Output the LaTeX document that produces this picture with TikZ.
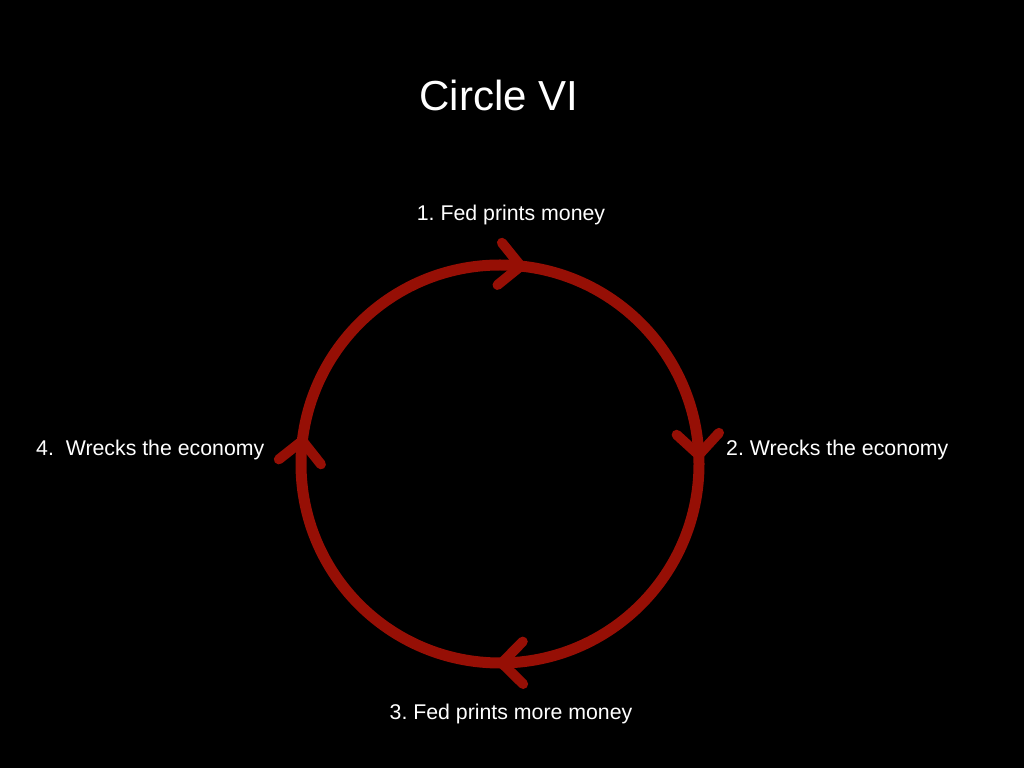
\documentclass[tikz,border=0pt]{standalone}
\usepackage{fontspec}
\setmainfont{Liberation Sans}
\usetikzlibrary{calc}
\definecolor{loopred}{RGB}{150,15,5}
\frenchspacing
\begin{document}
\begin{tikzpicture}[x=1pt,y=1pt,
  ring/.style={draw=loopred,line width=11pt},
  chevron/.style={draw=loopred,line width=10pt,line cap=round,line join=round},
  lbl/.style={text=white,font=\fontsize{21.3}{25}\selectfont,inner sep=0pt},
  ttl/.style={text=white,font=\fontsize{42}{50}\selectfont,inner sep=0pt}]
\fill[black] (0,0) rectangle (1024,768);
\useasboundingbox (0,0) rectangle (1024,768);
\coordinate (c) at (500,304);
\draw[ring] (c) circle[radius=199];
\foreach \n/\a in {t/84, r/2.6, b/-89.5, l/173.3}{
  \coordinate (tip\n) at ($(c)+(\a:199)$);
  \draw[chevron] ($(tip\n)+(\a+45:30)$) -- (tip\n) -- ($(tip\n)+(\a+135:30)$);
}
\node[ttl] (title) at (499,673) {Circle VI};
\node[lbl] (s1) at (511,553) {1. Fed prints money};
\node[lbl,anchor=west] (s2) at (726,318) {2. Wrecks the economy};
\node[lbl] (s3) at (511,54) {3. Fed prints more money};
\node[lbl,anchor=west] (s4) at (36,318) {4.\ \ Wrecks the economy};
\end{tikzpicture}
\end{document}
